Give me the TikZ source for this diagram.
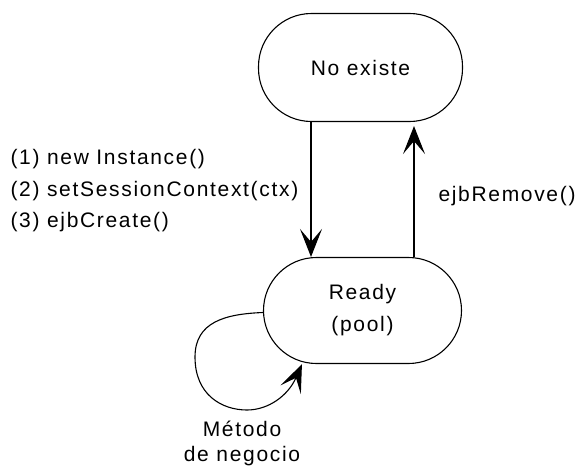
\documentclass[tikz,border=0pt]{standalone}
\usepackage{fontspec}
\setmainfont{Liberation Sans}[LetterSpace=8]
\usetikzlibrary{arrows.meta}
\tikzset{
>={Stealth[length=28pt,width=22pt,inset=13pt]}, % big open-backed heads
my state/.style={draw,rectangle,rounded corners=53pt,align=center,font=\fontsize{21}{32}\selectfont},
my label/.style={inner sep=0pt,font=\fontsize{21}{31.5}\selectfont},
}
\begin{document}
\begin{tikzpicture}[x=1pt,y=-1pt,line width=1.1pt]
\useasboundingbox (0,0) rectangle (585,471);
\node[my state,minimum width=204pt,minimum height=108pt] (noexiste) at (360.5,67.5) {No existe};
\node[my state,minimum width=198pt,minimum height=106pt] (ready) at (362.5,310.5) {Ready\\(pool)};
\draw[->] ([xshift=-49.5pt]noexiste.south) -- ([xshift=-51.5pt]ready.north);
\draw[->,shorten >=4pt] ([xshift=51.5pt]ready.north) -- ([xshift=53.5pt]noexiste.south);
% self loop on the left
\draw[->] ([yshift=-2pt]ready.west) .. controls (225,314) and (195,322) .. (195,357)
  .. controls (195,395) and (222,410) .. (247,410)
  .. controls (268,410) and (288,396) .. ([xshift=39pt]ready.south west);
\node[my label,anchor=west,align=left] (createlbl) at (10,191) {(1) new Instance()\\(2) setSessionContext(ctx)\\(3) ejbCreate()};
\node[my label,anchor=west] (removelbl) at (438,196) {ejbRemove()};
\node[my label,align=center,font=\fontsize{21}{25}\selectfont] (metodolbl) at (242,443) {Método\\de negocio};
\end{tikzpicture}
\end{document}
